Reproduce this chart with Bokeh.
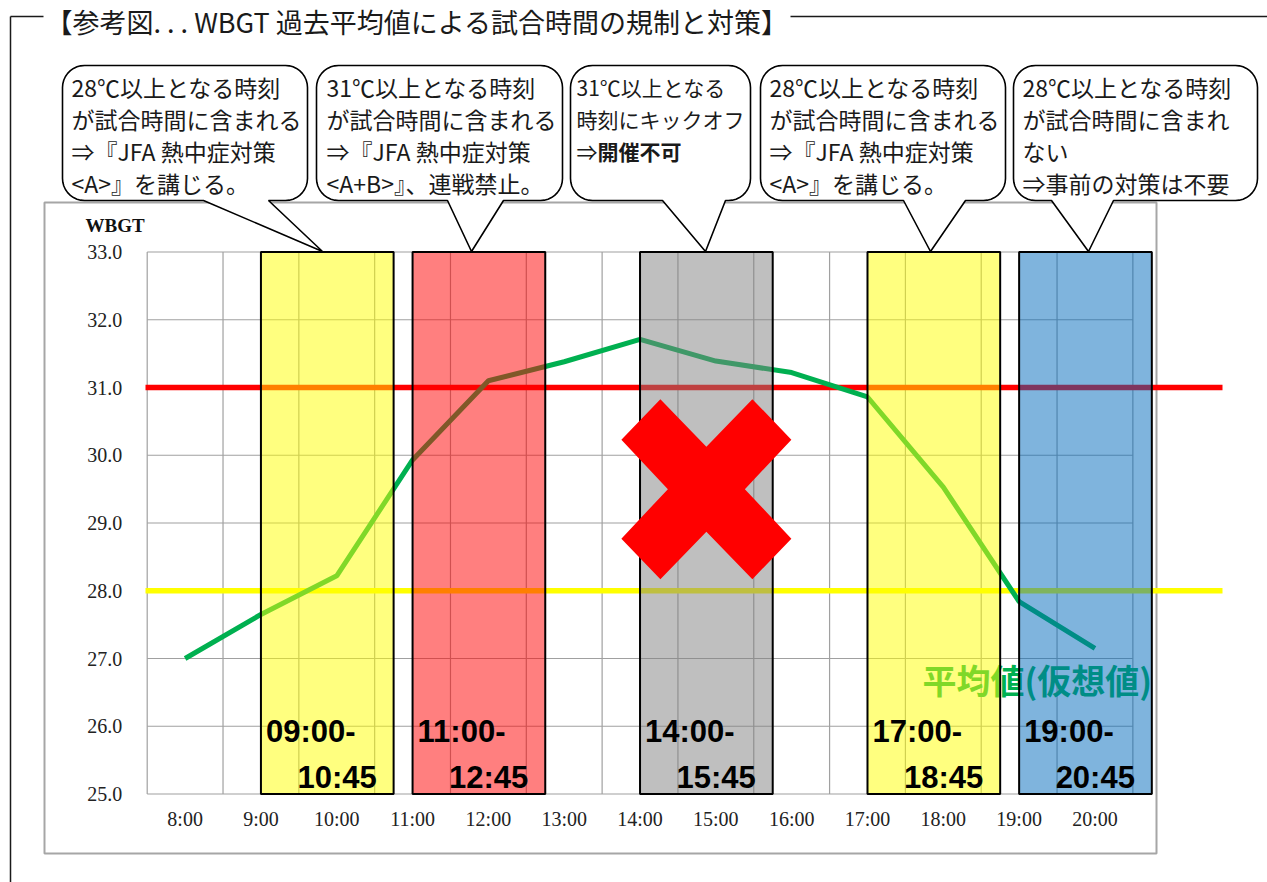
import numpy as np
from bokeh.plotting import figure
from bokeh.models import Range1d, LinearAxis, FixedTicker, NumeralTickFormatter
from bokeh.core.properties import value
from bokeh.embed import file_html
from bokeh.resources import INLINE

# ---------------- data ----------------
hours = [8, 9, 10, 11, 12, 13, 14, 15, 16, 17, 18, 19, 20]
hour_labels = ["8:00", "9:00", "10:00", "11:00", "12:00", "13:00", "14:00",
               "15:00", "16:00", "17:00", "18:00", "19:00", "20:00"]
wbgt_avg = [27.0, 27.65, 28.22, 29.93, 31.1, 31.38, 31.71, 31.39, 31.22,
            30.86, 29.53, 27.84, 27.15]
y_ticks = [25.0, 26.0, 27.0, 28.0, 29.0, 30.0, 31.0, 32.0, 33.0]
thresholds = [28.0, 31.0]
threshold_colors = ["#FFFF00", "#FF0000"]

band_start = [9.0, 11.0, 14.0, 17.0, 19.0]
band_end = [10.75, 12.75, 15.75, 18.75, 20.75]
band_colors = ["#FFFF00", "#FF0000", "#808080", "#FFFF00", "#0069BB"]
band_from = ["09:00-", "11:00-", "14:00-", "17:00-", "19:00-"]
band_to = ["10:45", "12:45", "15:45", "18:45", "20:45"]
banned_band = 2

series_label = "平均値(仮想値)"
y_title = "WBGT"
title_text = "【参考図. . .   WBGT 過去平均値による試合時間の規制と対策】"

bubble_texts = [
    ["28℃以上となる時刻", "が試合時間に含まれる", "⇒『JFA 熱中症対策", "<A>』を講じる。"],
    ["31℃以上となる時刻", "が試合時間に含まれる", "⇒『JFA 熱中症対策", "<A+B>』、連戦禁止。"],
    ["31℃以上となる", "時刻にキックオフ", ("⇒", "開催不可")],
    ["28℃以上となる時刻", "が試合時間に含まれる", "⇒『JFA 熱中症対策", "<A>』を講じる。"],
    ["28℃以上となる時刻", "が試合時間に含まれ", "ない", "⇒事前の対策は不要"],
]

# ---------------- layout (page pixels) ----------------
W, H = 1267, 882
ORIGIN = 0
PX_X75 = 146.7      # page x of x=7.5
PX_PER_H = 75.82
PY_33 = 251.5       # page y of y=33
PY_PER = 67.75


def hx(px):
    return 7.5 + (px - PX_X75) / PX_PER_H


def vy(py):
    return 33.0 - (py - PY_33) / PY_PER


xr = Range1d(hx(ORIGIN), hx(ORIGIN + W))
yr = Range1d(vy(ORIGIN + H), vy(ORIGIN))

p = figure(width=W, height=H, x_range=xr, y_range=yr,
           x_axis_type=None, y_axis_type=None, toolbar_location=None,
           output_backend="svg", min_border=0, min_border_left=0,
           min_border_right=0, min_border_top=0, min_border_bottom=0,
           outline_line_color=None, background_fill_color="white",
           border_fill_color="white")

JP = value("Noto Sans CJK JP")
SERIF = value("Liberation Serif")
SANS = value("Liberation Sans")

# outer frame lines + title
p.segment(x0=[hx(10), hx(790), hx(10)], x1=[hx(43), hx(1275), hx(10)],
          y0=[vy(16), vy(16), vy(16)], y1=[vy(16), vy(16), vy(890)],
          line_color="#1a1a1a", line_width=1.5)
p.text(x=[hx(45)], y=[vy(21)], text=[title_text], text_font=JP,
       text_font_size=value("27px"), text_color="#1a1a1a",
       text_baseline="middle", text_align="left")

# chart border
p.quad(left=[hx(44)], right=[hx(1156)], top=[vy(202)], bottom=[vy(853)],
       fill_color=None, line_color="#A6A6A6", line_width=2)

# speech bubbles
BY0, BY1, TIP_Y, R = 65, 200, 251, 22
bubbles = [
    (62, 307, 203, 268, 322),
    (316, 562, 447, 503, 471),
    (570, 750, 662, 725, 705),
    (760, 1005, 903, 965, 930),
    (1013, 1257, 1051, 1113, 1088),
]
bubble_font = [23, 23, 21, 23, 23]
bubble_pad = [9, 10, 6, 9, 9]


def bubble_poly(x0, x1, bl, br, tx):
    pts = []

    def arc(cx, cy, a0, a1):
        for t in np.linspace(a0, a1, 10):
            pts.append((cx + R * np.cos(np.radians(t)), cy + R * np.sin(np.radians(t))))

    arc(x0 + R, BY0 + R, 180, 270)
    arc(x1 - R, BY0 + R, 270, 360)
    arc(x1 - R, BY1 - R, 0, 90)
    pts.extend([(br, BY1), (tx, TIP_Y), (bl, BY1)])
    arc(x0 + R, BY1 - R, 90, 180)
    return [hx(a) for a, b in pts], [vy(b) for a, b in pts]


bx, by = [], []
for b in bubbles:
    xs, ys = bubble_poly(*b)
    bx.append(xs)
    by.append(ys)
p.patches(bx, by, fill_color="white", line_color="black", line_width=1.6)

for b, lines, fs, pad in zip(bubbles, bubble_texts, bubble_font, bubble_pad):
    left = b[0] + pad
    for i, ln in enumerate(lines):
        yy = vy(86 + 32 * i)
        if isinstance(ln, tuple):
            p.text(x=[hx(left)], y=[yy], text=[ln[0]], text_font=JP,
                   text_font_size=value(f"{fs}px"), text_color="#1a1a1a",
                   text_baseline="middle")
            p.text(x=[hx(left + fs)], y=[yy], text=[ln[1]], text_font=JP,
                   text_font_size=value(f"{fs}px"), text_color="#1a1a1a",
                   text_font_style="bold", text_baseline="middle")
        else:
            p.text(x=[hx(left)], y=[yy], text=[ln], text_font=JP,
                   text_font_size=value(f"{fs}px"), text_color="#1a1a1a",
                   text_baseline="middle")

# y title
p.text(x=[hx(85)], y=[vy(224.5)], text=[y_title], text_font=SERIF,
       text_font_size=value("19px"), text_font_style="bold", text_color="#111111",
       text_baseline="middle")

# gridlines
xmin, xmax = hours[0] - 0.5, hours[-1] + 0.5
vlines = [h - 0.5 for h in hours] + [xmax]
p.segment(x0=vlines, x1=vlines, y0=[y_ticks[0]] * len(vlines),
          y1=[y_ticks[-1]] * len(vlines), line_color="#A0A0A0", line_width=1.2)
p.segment(x0=[xmin] * len(y_ticks), x1=[xmax] * len(y_ticks), y0=y_ticks,
          y1=y_ticks, line_color="#A0A0A0", line_width=1.2)

# threshold lines
p.segment(x0=[hx(145)] * 2, x1=[hx(1222)] * 2, y0=thresholds, y1=thresholds,
          line_color=threshold_colors, line_width=5.5)

# series line
p.line(hours, wbgt_avg, line_color="#00B050", line_width=5)
p.text(x=[hx(922)], y=[vy(679)], text=[series_label], text_font=JP,
       text_font_size=value("34px"), text_font_style="bold", text_color="#00B050",
       text_baseline="middle")

# bands
p.quad(left=band_start, right=band_end, bottom=[y_ticks[0]] * 5,
       top=[y_ticks[-1]] * 5, fill_color=band_colors, fill_alpha=0.5,
       line_color="black", line_width=2)

# big red X over banned band
cx = (band_start[banned_band] + band_end[banned_band]) / 2
cy = 29.5
xpts = [(-85, -49.5), (-46, -90), (0, -42.5), (46, -90), (85, -49.5), (38.5, 0),
        (85, 49.5), (46, 90), (0, 42.5), (-46, 90), (-85, 49.5), (-38.5, 0)]
p.patch([cx + dx / PX_PER_H for dx, dy in xpts], [cy - dy / PY_PER for dx, dy in xpts],
        fill_color="#FF0000", line_color=None)

# band labels
p.text(x=band_start, y=[y_ticks[0]] * 5, text=band_from, x_offset=5, y_offset=-62.5,
       text_font=SANS, text_font_size=value("31px"), text_font_style="bold",
       text_color="black", text_baseline="alphabetic")
p.text(x=band_start, y=[y_ticks[0]] * 5, text=band_to, x_offset=36.5, y_offset=-16.5,
       text_font=SANS, text_font_size=value("31px"), text_font_style="bold",
       text_color="black", text_baseline="alphabetic")

# axes (fixed inside the frame)
xaxis = LinearAxis(fixed_location=y_ticks[0], ticker=FixedTicker(ticks=hours),
                   major_label_overrides={h: l for h, l in zip(hours, hour_labels)},
                   axis_line_color=None, major_tick_line_color=None,
                   major_tick_out=0, major_tick_in=0,
                   minor_tick_line_color=None, major_label_standoff=14,
                   major_label_text_font="Liberation Serif",
                   major_label_text_font_size="20px",
                   major_label_text_color="#222222")
p.add_layout(xaxis, "below")
yaxis = LinearAxis(fixed_location=xmin, ticker=FixedTicker(ticks=y_ticks),
                   formatter=NumeralTickFormatter(format="0.0"),
                   axis_line_color=None, major_tick_line_color=None,
                   major_tick_out=0, major_tick_in=0,
                   minor_tick_line_color=None, major_label_standoff=25,
                   major_label_text_font="Liberation Serif",
                   major_label_text_font_size="20px",
                   major_label_text_color="#222222")
p.add_layout(yaxis, "left")

open("out.html", "w").write(file_html(p, INLINE))
